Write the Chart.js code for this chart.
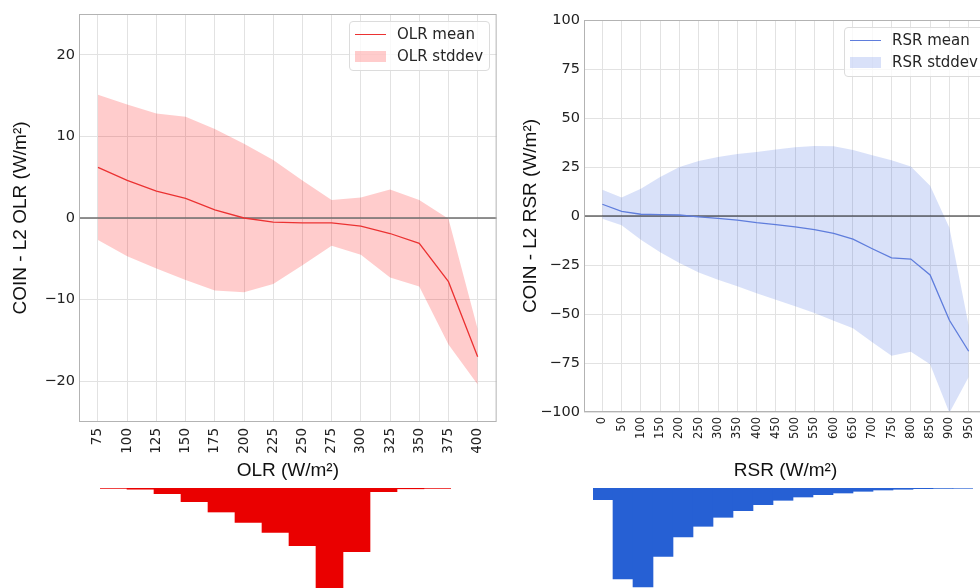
<!DOCTYPE html>
<html>
<head>
<meta charset="utf-8">
<title>COIN - L2 OLR / RSR</title>
<script src="https://cdn.jsdelivr.net/npm/chart.js@4.4.1/dist/chart.umd.min.js"></script>
<style>
  html, body { margin: 0; padding: 0; background: #fff; overflow: hidden; }
  #page { position: relative; width: 980px; height: 588px; overflow: hidden; }
  canvas { position: absolute; }
  #olrChart { left: 0; top: 0; }
  #rsrChart { left: 500px; top: 0; }
  #olrHist { left: 100px; top: 488px; }
  #rsrHist { left: 593px; top: 488px; }
  .legend {
    position: absolute; background: rgba(255,255,255,0.8);
    border: 1px solid #dcdcdc; border-radius: 4px;
    padding: 1px 6px 3px 5px;
    font: 15px 'DejaVu Sans', sans-serif; color: #262626;
  }
  .legend .row { display: flex; align-items: center; height: 22px; white-space: nowrap; }
  .legend .swatch { width: 31px; margin-right: 11px; }
  #olrLegend { left: 349px; top: 21px; }
  #rsrLegend { left: 844px; top: 27px; }
</style>
</head>
<body>
<div id="page">
  <canvas id="olrChart" width="500" height="482"></canvas>
  <canvas id="rsrChart" width="490" height="482"></canvas>
  <canvas id="olrHist" width="351" height="100"></canvas>
  <canvas id="rsrHist" width="380" height="100"></canvas>
  <div id="olrLegend" class="legend"></div>
  <div id="rsrLegend" class="legend"></div>
</div>
<script>
// OLR bins (W/m2) and COIN - L2 difference statistics
var olrBins = [75, 100, 125, 150, 175, 200, 225, 250, 275, 300, 325, 350, 375, 400];
var olrMean = [6.2, 4.6, 3.3, 2.4, 1.0, 0.0, -0.5, -0.6, -0.6, -1.0, -1.9, -3.1, -7.8, -17.0];
var olrStd = [8.9, 9.3, 9.5, 10.0, 9.9, 9.1, 7.6, 5.2, 2.8, 3.5, 5.4, 5.3, 7.7, 3.4];
var olrYTicks = [-20, -10, 0, 10, 20];

// RSR bins (W/m2)
var rsrBins = [0, 50, 100, 150, 200, 250, 300, 350, 400, 450, 500, 550, 600, 650, 700, 750, 800, 850, 900, 950];
var rsrMean = [6.0, 2.4, 0.9, 0.7, 0.5, -0.4, -1.2, -2.1, -3.4, -4.4, -5.5, -6.9, -8.9, -11.8, -16.7, -21.4, -22.0, -30.1, -53.2, -69.0];
var rsrStd = [7.4, 7.1, 13.0, 19.2, 24.5, 28.4, 31.3, 33.7, 36.0, 38.3, 40.6, 42.6, 44.5, 45.5, 47.7, 49.9, 47.2, 45.5, 47.2, 13.1];
var rsrYTicks = [-100, -75, -50, -25, 0, 25, 50, 75, 100];

// sample counts per bin, drawn hanging under each panel
var olrHistCounts = [0.4, 1.2, 5.7, 13.7, 24, 34.3, 44.3, 57.7, 104, 63.7, 3.7, 0.8, 0.4];
var rsrHistCounts = [11.7, 91, 99, 68.3, 49, 38.3, 29.3, 22.7, 16.7, 12.3, 9, 6.7, 5, 3.3, 2, 1.3, 0.7, 0.4, 0.3];

Chart.defaults.font.family = "'DejaVu Sans', sans-serif";
Chart.defaults.color = '#222';

function points(xs, ys) {
    return xs.map(function (x, i) { return { x: x, y: ys[i] }; });
}
function band(xs, mean, std, sign) {
    return xs.map(function (x, i) { return { x: x, y: mean[i] + sign * std[i] }; });
}
function minus(v) {
    return String(v).replace('-', '\u2212');
}

// legend built as html from the chart's own datasets
var htmlLegend = {
    id: 'htmlLegend',
    afterUpdate: function (chart, args, opts) {
        var box = document.getElementById(opts.containerID);
        box.innerHTML = '';
        chart.data.datasets.forEach(function (ds) {
            if (!ds.label) return;
            var row = document.createElement('div');
            row.className = 'row';
            var sw = document.createElement('div');
            sw.className = 'swatch';
            if (ds.fill) {
                sw.style.height = '11px';
                sw.style.background = ds.backgroundColor;
            } else {
                sw.style.height = '0';
                sw.style.borderTop = ds.borderWidth + 'px solid ' + ds.borderColor;
            }
            var txt = document.createElement('span');
            txt.textContent = ds.label;
            row.appendChild(sw);
            row.appendChild(txt);
            box.appendChild(row);
        });
    }
};

// zero line under the mean curve, plus the box round the axes
var axesFrame = {
    id: 'axesFrame',
    beforeDatasetDraw: function (chart, args, opts) {
        if (args.index !== 0) return;
        var a = chart.chartArea, ctx = chart.ctx;
        var y = chart.scales.y.getPixelForValue(0);
        ctx.save();
        ctx.strokeStyle = opts.zeroColor;
        ctx.lineWidth = opts.zeroWidth;
        ctx.beginPath();
        ctx.moveTo(a.left, y);
        ctx.lineTo(a.right, y);
        ctx.stroke();
        ctx.restore();
    },
    afterDraw: function (chart, args, opts) {
        var a = chart.chartArea, ctx = chart.ctx;
        ctx.save();
        ctx.strokeStyle = opts.frameColor;
        ctx.lineWidth = 1;
        ctx.strokeRect(a.left + 0.5, a.top + 0.5, a.right - a.left - 1, a.bottom - a.top - 1);
        ctx.restore();
    }
};

function panel(canvasId, cfg) {
    return new Chart(document.getElementById(canvasId), {
        type: 'line',
        data: {
            datasets: [
                {
                    label: cfg.name + ' mean',
                    data: points(cfg.bins, cfg.mean),
                    borderColor: cfg.lineColor,
                    borderWidth: 1.3,
                    pointRadius: 0,
                    tension: 0,
                    fill: false
                },
                {
                    label: cfg.name + ' stddev',
                    data: band(cfg.bins, cfg.mean, cfg.std, 1),
                    borderWidth: 0,
                    borderColor: 'rgba(0,0,0,0)',
                    backgroundColor: cfg.bandColor,
                    pointRadius: 0,
                    tension: 0,
                    fill: '+1'
                },
                {
                    data: band(cfg.bins, cfg.mean, cfg.std, -1),
                    borderWidth: 0,
                    borderColor: 'rgba(0,0,0,0)',
                    pointRadius: 0,
                    tension: 0,
                    fill: false
                }
            ]
        },
        options: {
            responsive: false,
            animation: false,
            devicePixelRatio: 1,
            layout: { padding: cfg.padding },
            plugins: {
                legend: { display: false },
                tooltip: { enabled: false },
                htmlLegend: { containerID: cfg.legendId },
                axesFrame: { zeroColor: cfg.zeroColor, zeroWidth: cfg.zeroWidth, frameColor: '#b3b3b3' }
            },
            scales: {
                x: {
                    type: 'linear',
                    min: cfg.xMin,
                    max: cfg.xMax,
                    afterBuildTicks: function (s) { s.ticks = cfg.bins.map(function (v) { return { value: v }; }); },
                    afterFit: function (s) { s.height = cfg.xAxisHeight; },
                    border: { display: false },
                    grid: { color: '#e2e2e2', drawTicks: false },
                    ticks: {
                        autoSkip: false, minRotation: 90, maxRotation: 90,
                        padding: cfg.xTickPad, font: { size: cfg.xTickSize },
                        callback: function (v) { return String(v); }
                    },
                    title: {
                        display: true, text: cfg.name + ' (W/m\u00b2)',
                        font: { family: "'Liberation Sans', Arial, sans-serif", size: 19 },
                        color: '#111', padding: { top: 0, bottom: 0 }
                    }
                },
                y: {
                    min: cfg.yMin,
                    max: cfg.yMax,
                    afterBuildTicks: function (s) { s.ticks = cfg.yTicks.map(function (v) { return { value: v }; }); },
                    afterFit: function (s) { s.width = cfg.yAxisWidth; },
                    border: { display: false },
                    grid: { color: '#e2e2e2', drawTicks: false },
                    ticks: { padding: 4, font: { size: 14.5 }, callback: minus },
                    title: {
                        display: true, text: 'COIN - L2 ' + cfg.name + ' (W/m\u00b2)',
                        font: { family: "'Liberation Sans', Arial, sans-serif", size: 19 },
                        color: '#111', padding: { top: cfg.yTitlePad, bottom: 0 }
                    }
                }
            }
        },
        plugins: [htmlLegend, axesFrame]
    });
}

function histogram(canvasId, counts, color) {
    return new Chart(document.getElementById(canvasId), {
        type: 'bar',
        data: {
            labels: counts.map(function (c, i) { return String(i); }),
            datasets: [{
                data: counts,
                backgroundColor: color,
                borderWidth: 0,
                barPercentage: 1,
                categoryPercentage: 1
            }]
        },
        options: {
            responsive: false,
            animation: false,
            devicePixelRatio: 1,
            layout: { padding: 0 },
            plugins: { legend: { display: false }, tooltip: { enabled: false } },
            scales: {
                x: { display: false },
                y: { display: false, min: 0, max: 100, reverse: true }
            }
        }
    });
}

panel('olrChart', {
    name: 'OLR', bins: olrBins, mean: olrMean, std: olrStd, yTicks: olrYTicks,
    xMin: 58.75, xMax: 416.25, yMin: -25, yMax: 25,
    lineColor: 'rgb(235,50,50)', bandColor: 'rgba(255,0,0,0.2)',
    zeroColor: '#6e6e6e', zeroWidth: 1.5,
    padding: { top: 14, right: 3, left: 0, bottom: 0 },
    xAxisHeight: 60, yAxisWidth: 79, xTickPad: 6, xTickSize: 13.5, yTitlePad: 9,
    legendId: 'olrLegend'
});

panel('rsrChart', {
    name: 'RSR', bins: rsrBins, mean: rsrMean, std: rsrStd, yTicks: rsrYTicks,
    xMin: -47.5, xMax: 997.5, yMin: -100, yMax: 100,
    lineColor: 'rgb(95,125,220)', bandColor: 'rgba(65,105,225,0.2)',
    zeroColor: '#1a1a1a', zeroWidth: 1,
    padding: { top: 20, right: 3, left: 0, bottom: 0 },
    xAxisHeight: 70, yAxisWidth: 84, xTickPad: 5, xTickSize: 11.5, yTitlePad: 19,
    legendId: 'rsrLegend'
});

histogram('olrHist', olrHistCounts, '#ea0000');
histogram('rsrHist', rsrHistCounts, '#2660d4');
</script>
</body>
</html>
